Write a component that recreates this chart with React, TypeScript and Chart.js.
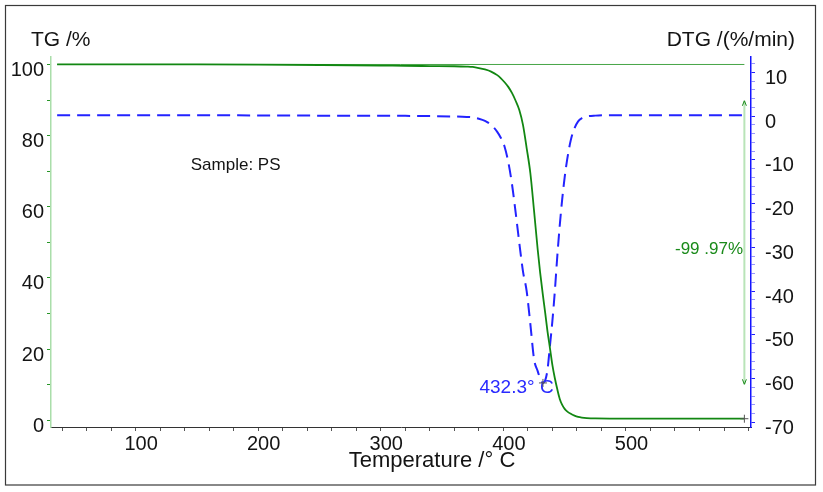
import React, { useEffect, useRef } from 'react';
import { Chart, registerables } from 'chart.js';

Chart.register(...registerables);

// ---------------- data ----------------
const temperature = [
  36, 60, 100, 150, 200, 250, 300, 320, 340, 360, 370, 375, 380, 385, 390, 395, 398, 401, 404, 407,
  410, 413, 416, 419, 422, 425, 428, 430, 432.3, 434, 436, 438, 440, 442, 444, 446, 448, 450, 452,
  455, 458, 461, 464, 468, 475, 490, 520, 560, 596.6,
];

const tgValues = [
  100.0, 100.0, 100.0, 100.0, 99.95, 99.85, 99.7, 99.6, 99.55, 99.5, 99.4, 99.3, 99.0, 98.6, 98.0, 97.0,
  96.1, 95.0, 93.7, 92.0, 89.8, 87.2, 83.0, 76.5, 69.5, 59.0, 48.0, 41.5, 35.0, 30.5, 25.0, 20.3, 15.5,
  11.8, 8.7, 6.0, 4.3, 3.2, 2.5, 1.8, 1.3, 0.95, 0.75, 0.6, 0.5, 0.47, 0.45, 0.44, 0.43,
];

const dtgValues = [
  0.2, 0.2, 0.2, 0.2, 0.15, 0.1, 0.1, 0.05, 0.0, -0.1, -0.2, -0.3, -0.6, -1.1, -2.0, -3.6, -5.0, -7.0,
  -10.5, -15.5, -22.0, -29.0, -35.5, -40.0, -47.5, -55.5, -58.3, -60.0, -61.0, -60.5, -58.0, -52.5,
  -46.8, -40.0, -32.0, -25.0, -19.0, -14.0, -10.0, -5.5, -2.8, -1.2, -0.5, -0.1, 0.1, 0.2, 0.2, 0.2, 0.2,
];

const xTickLabels = [100, 200, 300, 400, 500];
const tgTickLabels = [0, 20, 40, 60, 80, 100];
const dtgTickLabels = [10, 0, -10, -20, -30, -40, -50, -60, -70];

const xTitle = 'Temperature /° C';
const tgTitle = 'TG /%';
const dtgTitle = 'DTG /(%/min)';

const sampleText = 'Sample: PS';
const sampleAt = [145, 71.7]; // temperature, TG
const peakText = '432.3° C';
const peakAt = [432.3, -61.0]; // temperature, DTG
const peakTextAt = [380.5, -62.0];
const lossText = '-99 .97%';
const lossTextAt = [595.5, 48.0]; // temperature, TG
const lossArrow = [596.6, 89.8, 10.1]; // temperature, TG top, TG bottom

const FONT = '"Liberation Sans", Arial, sans-serif';

const range = (a: number, b: number, s: number) => {
  const out: number[] = [];
  for (let v = a; v <= b + 1e-9; v += s) out.push(Math.round(v * 100) / 100);
  return out;
};

const decorPlugin = {
  id: 'decor',
  beforeDraw(chart: any) {
    const { ctx, width, height } = chart;
    ctx.save();
    ctx.fillStyle = '#ffffff';
    ctx.fillRect(0, 0, width, height);
    ctx.strokeStyle = '#3a3a3a';
    ctx.lineWidth = 1.2;
    ctx.strokeRect(5.5, 5.5, 810, 479.5);
    ctx.restore();
  },
  afterDraw(chart: any) {
    const { ctx, scales } = chart;
    const xs = scales.x;
    const yl = scales.yTG;
    const yr = scales.yDTG;
    ctx.save();
    ctx.textBaseline = 'middle';

    // axis titles
    ctx.fillStyle = '#141414';
    ctx.font = `21px ${FONT}`;
    ctx.textAlign = 'left';
    ctx.fillText(tgTitle, 31, 40);
    ctx.textAlign = 'right';
    ctx.fillText(dtgTitle, 795, 40);
    ctx.font = `22px ${FONT}`;
    ctx.textAlign = 'center';
    ctx.fillText(xTitle, 432, 461);

    // sample label
    ctx.font = `17px ${FONT}`;
    ctx.textAlign = 'left';
    ctx.fillStyle = '#141414';
    ctx.fillText(sampleText, xs.getPixelForValue(sampleAt[0]), yl.getPixelForValue(sampleAt[1]));

    // mass loss arrow
    const ax = xs.getPixelForValue(lossArrow[0]);
    const ay1 = yl.getPixelForValue(lossArrow[1]);
    const ay2 = yl.getPixelForValue(lossArrow[2]);
    ctx.strokeStyle = 'rgb(185,228,185)';
    ctx.lineWidth = 2;
    ctx.beginPath();
    ctx.moveTo(ax, ay1);
    ctx.lineTo(ax, ay2);
    ctx.stroke();
    ctx.strokeStyle = '#1a8a1a';
    ctx.lineWidth = 1;
    ctx.beginPath();
    ctx.moveTo(ax - 2, ay1 + 5);
    ctx.lineTo(ax, ay1);
    ctx.lineTo(ax + 2, ay1 + 5);
    ctx.moveTo(ax - 2, ay2 - 5);
    ctx.lineTo(ax, ay2);
    ctx.lineTo(ax + 2, ay2 - 5);
    ctx.stroke();

    ctx.font = `17px ${FONT}`;
    ctx.textAlign = 'right';
    ctx.fillStyle = '#1a8a1a';
    ctx.fillText(lossText, xs.getPixelForValue(lossTextAt[0]), yl.getPixelForValue(lossTextAt[1]));

    // peak label
    ctx.font = `19px ${FONT}`;
    ctx.textAlign = 'left';
    ctx.fillStyle = '#2a2aff';
    ctx.fillText(peakText, xs.getPixelForValue(peakTextAt[0]), yr.getPixelForValue(peakTextAt[1]));

    // crosses
    const cross = (x: number, y: number) => {
      ctx.beginPath();
      ctx.moveTo(x - 4, y);
      ctx.lineTo(x + 4, y);
      ctx.moveTo(x, y - 4);
      ctx.lineTo(x, y + 4);
      ctx.stroke();
    };
    ctx.strokeStyle = '#555555';
    ctx.lineWidth = 1;
    cross(xs.getPixelForValue(peakAt[0]), yr.getPixelForValue(peakAt[1]));
    cross(
      xs.getPixelForValue(temperature[temperature.length - 1]),
      yl.getPixelForValue(tgValues[tgValues.length - 1])
    );
    ctx.restore();
  },
};

export default function App() {
  const ref = useRef<HTMLCanvasElement | null>(null);

  useEffect(() => {
    if (!ref.current) return;
    const tgData = temperature.map((t, i) => ({ x: t, y: tgValues[i] }));
    const dtgData = temperature.map((t, i) => ({ x: t, y: dtgValues[i] }));
    const refLine = [
      { x: temperature[0], y: tgValues[0] },
      { x: temperature[temperature.length - 1], y: tgValues[0] },
    ];

    const chart = new Chart(ref.current, {
      type: 'line',
      data: {
        datasets: [
          {
            label: 'TG',
            data: tgData,
            yAxisID: 'yTG',
            borderColor: 'rgb(18,135,18)',
            borderWidth: 1.8,
            pointRadius: 0,
            cubicInterpolationMode: 'monotone',
            fill: false,
          },
          {
            label: 'TG start',
            data: refLine,
            yAxisID: 'yTG',
            borderColor: 'rgb(70,165,70)',
            borderWidth: 1,
            pointRadius: 0,
            fill: false,
          },
          {
            label: 'DTG',
            data: dtgData,
            yAxisID: 'yDTG',
            borderColor: 'rgb(35,35,255)',
            borderWidth: 2,
            borderDash: [13, 7],
            pointRadius: 0,
            cubicInterpolationMode: 'monotone',
            fill: false,
          },
        ],
      },
      options: {
        responsive: false,
        animation: false,
        events: [],
        layout: { padding: { top: 57, left: 0, right: 0, bottom: 0 } },
        plugins: { legend: { display: false }, tooltip: { enabled: false }, title: { display: false } },
        scales: {
          x: {
            type: 'linear',
            position: 'bottom',
            min: 31,
            max: 602,
            afterBuildTicks: (s: any) => {
              s.ticks = range(40, 600, 20).map((v) => ({ value: v }));
            },
            afterFit: (s: any) => {
              s.height = 65;
            },
            ticks: {
              autoSkip: false,
              maxRotation: 0,
              padding: 1,
              labelOffset: 5.5,
              color: '#141414',
              font: { family: FONT, size: 20 },
              callback: (v: any) => (xTickLabels.includes(Number(v)) ? String(v) : ''),
            },
            grid: { drawOnChartArea: false, drawTicks: true, tickLength: 4, color: '#555555' },
            border: { color: '#333333', width: 1 },
          },
          yTG: {
            type: 'linear',
            position: 'left',
            min: -1.9,
            max: 102.1,
            afterBuildTicks: (s: any) => {
              s.ticks = range(0, 100, 10).map((v) => ({ value: v }));
            },
            afterFit: (s: any) => {
              s.width = 51;
            },
            ticks: {
              autoSkip: false,
              padding: 3,
              labelOffset: 6,
              color: '#141414',
              font: { family: FONT, size: 20 },
              callback: (v: any) => (tgTickLabels.includes(Number(v)) ? String(v) : ''),
            },
            grid: { drawOnChartArea: false, drawTicks: true, tickLength: 4, color: 'rgb(40,150,40)' },
            border: { color: 'rgb(170,222,170)', width: 1.5 },
          },
          yDTG: {
            type: 'linear',
            position: 'right',
            min: -71.07,
            max: 13.5,
            afterBuildTicks: (s: any) => {
              s.ticks = range(-70, 12, 2).map((v) => ({ value: v }));
            },
            afterFit: (s: any) => {
              s.width = 72;
            },
            ticks: {
              autoSkip: false,
              padding: 10,
              labelOffset: 6,
              color: '#141414',
              font: { family: FONT, size: 20 },
              callback: (v: any) => (dtgTickLabels.includes(Number(v)) ? String(v) : ''),
            },
            grid: {
              drawOnChartArea: false,
              drawTicks: true,
              tickLength: 4,
              color: (c: any) =>
                c.tick && c.tick.value % 10 === 0 ? 'rgb(30,30,255)' : 'rgb(150,150,255)',
            },
            border: { color: 'rgb(20,20,255)', width: 1.5 },
          },
        },
      },
      plugins: [decorPlugin],
    } as any);

    return () => chart.destroy();
  }, []);

  return (
    <div style={{ position: 'fixed', left: 0, top: 0, width: 823, height: 492 }}>
      <canvas ref={ref} width={823} height={492} style={{ display: 'block', width: 823, height: 492 }} />
    </div>
  );
}
